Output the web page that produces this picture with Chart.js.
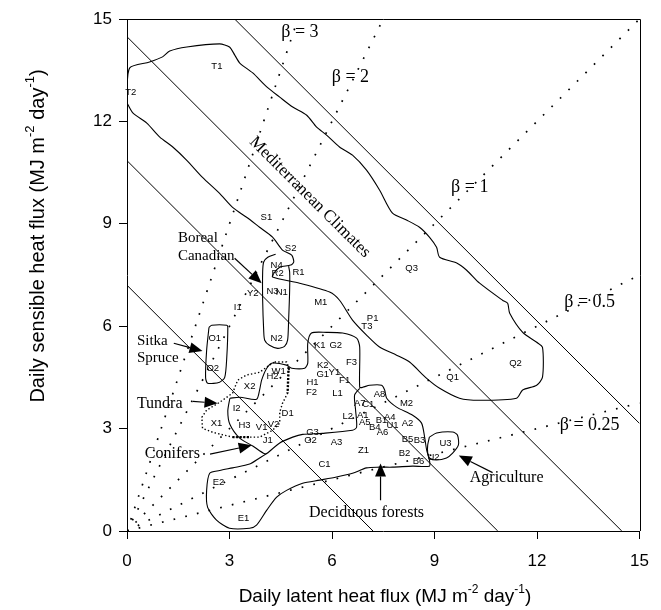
<!DOCTYPE html>
<html>
<head>
<meta charset="utf-8">
<script src="https://cdn.jsdelivr.net/npm/chart.js@4.4.1/dist/chart.umd.min.js"></script>
<style>
  body { margin: 0; background: #fff; }
  canvas { display: block; }
</style>
</head>
<body>
<canvas id="myChart" width="661" height="610"></canvas>
<script>
// Bowen ratio rays (H = beta * LE) and lines of equal available energy (LE + H)
const betaValues = [3, 2, 1, 0.5, 0.25];
const energySums = [7.2, 10.85, 14.48, 18.15];
const axisTicks = [0, 3, 6, 9, 12, 15];

// Site labels: latent (LE) and sensible (H) heat flux, MJ m-2 day-1
const siteNames = ["T1","T2","S1","S2","R1","N4","R2","N3","N1","Y2","I1","M1","N2","K1","G2",
  "T3","P1","Q3","Q1","Q2","O1","O2","X2","H2","W1","K2","G1","Y1","F3","F1","H1","F2","L1",
  "A8","A7","C1","L2","A1","A5","B1","B4","A4","U1","A6","A2","M2","B5","B3","B2","B6","U2","U3",
  "A3","G3","G2","Z1","C1","E2","E1","J1","X1","I2","H3","V1","V2","D1"];
const siteLE = [2.63,0.11,4.08,4.79,5.02,4.38,4.41,4.26,4.53,3.68,3.24,5.67,4.38,5.64,6.11,
  7.02,7.19,8.33,9.53,11.37,2.57,2.51,3.59,4.26,4.44,5.73,5.73,6.07,6.57,6.37,5.43,5.40,6.16,
  7.39,6.81,7.06,6.46,6.90,6.96,7.45,7.25,7.69,7.77,7.48,8.21,8.18,8.21,8.56,8.12,8.53,8.97,9.32,
  6.13,5.43,5.37,6.92,5.78,2.68,3.41,4.12,2.62,3.21,3.44,3.94,4.29,4.70];
const siteH = [13.62,12.86,9.19,8.28,7.58,7.79,7.56,7.03,7.00,6.97,6.56,6.70,5.65,5.44,5.44,
  6.00,6.23,7.70,4.51,4.92,5.65,4.77,4.24,4.54,4.68,4.86,4.60,4.65,4.94,4.42,4.36,4.07,4.04,
  4.01,3.75,3.72,3.36,3.39,3.18,3.25,3.04,3.33,3.10,2.89,3.16,3.74,2.68,2.65,2.26,2.05,2.17,2.58,
  2.60,2.89,2.66,2.37,1.94,1.43,0.37,2.66,3.16,3.60,3.10,3.04,3.13,3.45];

// Region outlines [LE, H]
const mediterranean = [[0,12.54],[0,12.92],[0.08,13.57],[0.66,13.74],[1.04,13.89],[1.25,14.06],
  [1.75,14.18],[2.71,14.27],[3.0,14.18],[3.15,13.95],[3.3,13.71],[3.68,13.42],[4.09,13.01],
  [4.47,12.71],[4.85,12.42],[5.26,12.18],[5.55,11.83],[5.84,11.6],[6.22,11.25],[6.6,11.01],
  [7.01,10.57],[7.39,9.99],[7.77,9.31],[8.18,9.11],[8.56,8.9],[8.85,8.61],[9.06,8.31],[9.15,8.02],
  [9.65,7.85],[9.94,7.64],[10.32,7.26],[10.99,6.76],[11.14,6.67],[11.2,6.38],[11.58,5.82],
  [11.99,5.53],[12.16,5.38],[12.16,4.51],[11.99,4.27],[11.58,4.13],[11.4,3.89],[10.32,3.83],
  [9.73,3.89],[9.15,4.18],[8.77,4.47],[8.27,4.95],[7.89,5.15],[7.39,5.39],[7.01,5.74],[6.6,6.18],
  [6.22,6.76],[5.93,7.0],[5.05,7.26],[4.26,7.44],[4.32,7.58],[4.47,7.73],[4.79,7.79],[4.88,7.88],
  [4.82,8.08],[4.55,8.23],[4.26,8.61],[3.88,8.9],[3.5,9.19],[3.09,9.48],[2.71,9.89],[2.21,10.36],
  [1.75,10.86],[1.34,11.25],[0.96,11.54],[0.58,11.95],[0.17,12.25],[0,12.54]];
const boreal = [[4.35,8.11],[4.12,8.02],[4.0,7.88],[3.97,7.58],[3.97,6.76],[4.0,5.88],[4.03,5.59],
  [4.17,5.44],[4.41,5.35],[4.61,5.41],[4.7,5.59],[4.73,6.18],[4.76,7.06],[4.76,7.58],[4.73,7.76]];
const sitka = [[2.4,5.97],[2.48,6.03],[2.92,6.03],[2.95,5.97],[2.92,5.09],[2.86,4.5],[2.71,4.36],
  [2.36,4.33],[2.3,4.5],[2.33,5.29],[2.4,5.97]];
const tundra = [[4.32,4.95],[4.67,4.95],[4.73,4.8],[4.7,4.04],[4.55,3.74],[4.47,3.48],[4.47,3.16],
  [4.26,2.95],[3.88,2.75],[3.5,2.75],[3.09,2.75],[2.51,2.89],[2.21,3.01],[2.19,3.33],[2.33,3.54],
  [2.71,3.77],[3.09,4.04],[3.24,4.42],[3.5,4.57],[3.88,4.65],[4.17,4.86],[4.32,4.95]];
const tundraHeavy1 = [[4.73,4.8],[4.7,4.04]];
const tundraHeavy2 = [[3.09,2.75],[3.6,2.75]];
const forests = [[3.01,3.89],[3.3,3.92],[3.79,3.86],[3.88,4.13],[3.94,4.42],[4.09,4.77],[4.26,4.92],
  [4.67,4.86],[4.82,4.77],[5.2,4.77],[5.29,4.92],[5.29,5.5],[5.4,5.8],[5.84,5.82],[6.31,5.8],
  [6.72,5.65],[6.81,5.39],[6.81,4.21],[6.9,4.21],[7.1,4.27],[7.45,4.27],[7.54,4.13],[7.6,3.89],
  [7.89,3.63],[8.36,3.39],[8.62,3.16],[8.71,2.75],[8.77,2.37],[8.85,2.08],[8.85,1.9],[8.36,1.9],
  [7.77,1.87],[7.39,1.87],[7.01,1.85],[6.6,1.69],[6.13,1.58],[5.64,1.49],[5.14,1.4],[4.67,1.19],
  [4.38,0.99],[4.09,0.61],[3.79,0.17],[3.59,0.08],[3.0,0.08],[2.62,0.32],[2.36,0.69],[2.33,1.19],
  [2.42,1.69],[2.71,1.77],[3.09,1.85],[3.59,1.96],[3.88,2.14],[4.12,2.29],[4.03,2.26],[3.68,2.49],
  [3.3,2.72],[3.01,3.13],[2.95,3.51],[3.01,3.89]];
const forestDivide = [[4.12,2.29],[4.47,2.58],[4.85,2.75],[5.14,2.83],[5.72,2.86],[6.6,2.95],
  [6.72,3.04],[6.69,3.54],[6.66,3.98],[6.81,4.18]];
const agriculture = [[8.85,2.75],[9.06,2.87],[9.53,2.9],[9.67,2.81],[9.7,2.52],[9.53,2.28],
  [9.35,2.14],[9.06,2.08],[8.85,2.14],[8.8,2.29],[8.8,2.52],[8.85,2.75]];

// Annotations (serif text) and arrows
const noteText = ["β = 3","β = 2","β = 1","β = 0.5","β = 0.25","Boreal","Canadian","Sitka","Spruce",
  "Tundra","Conifers","Deciduous forests","Agriculture"];
const noteLE = [5.06,6.54,10.03,13.54,13.54,1.49,1.49,0.29,0.29,0.29,0.52,7.01,11.11];
const noteH = [14.62,13.30,10.08,6.70,3.10,8.58,8.05,5.56,5.06,3.74,2.25,0.52,1.55];
const noteAlign = ["center","center","center","center","center","left","left","left","left",
  "left","left","center","center"];
const noteSize = [18,18,18,18,18,15,15,15,15,16,16,16,16];
const arrowFrom = [[3.15,7.99],[1.37,5.50],[1.93,3.80],[2.43,2.25],[7.42,0.90],[10.70,1.71]];
const arrowTo = [[3.94,7.26],[2.21,5.27],[2.65,3.74],[3.65,2.51],[7.42,1.98],[9.71,2.21]];

function toPts(arr) { return arr.map(p => ({ x: p[0], y: p[1] })); }

const datasets = [];
betaValues.forEach(b => {
  datasets.push({
    data: [{ x: 0, y: 0 }, { x: Math.min(15, 15 / b), y: Math.min(15, 15 * b) }],
    borderColor: "#000", borderWidth: 1.7, borderDash: [1.7, 10.3]
  });
});
energySums.forEach(s => {
  datasets.push({
    data: [{ x: Math.max(0, s - 15), y: Math.min(s, 15) }, { x: Math.min(s, 15), y: Math.max(0, s - 15) }],
    borderColor: "#000", borderWidth: 1
  });
});
[mediterranean, boreal, sitka, forests, forestDivide, agriculture].forEach(poly => {
  datasets.push({ data: toPts(poly), borderColor: "#000", borderWidth: 1.1, tension: 0.25 });
});
datasets.push({ data: toPts(tundra), borderColor: "#000", borderWidth: 1.4, borderDash: [1.4, 2.2] });
[tundraHeavy1, tundraHeavy2].forEach(seg => {
  datasets.push({ data: toPts(seg), borderColor: "#000", borderWidth: 2.4, borderDash: [2, 1.6] });
});
datasets.forEach(d => { d.showLine = true; d.pointRadius = 0; d.fill = false; });

const decor = {
  id: "decor",
  afterDatasetsDraw(chart) {
    const { ctx, chartArea: a, scales: { x, y } } = chart;
    const px = v => x.getPixelForValue(v);
    const py = v => y.getPixelForValue(v);
    ctx.save();
    ctx.strokeStyle = "#000";
    ctx.fillStyle = "#000";
    ctx.lineWidth = 1;
    // top and right frame
    ctx.beginPath();
    ctx.moveTo(Math.round(a.left), Math.round(a.top) + 0.5);
    ctx.lineTo(Math.round(a.right) + 0.5, Math.round(a.top) + 0.5);
    ctx.lineTo(Math.round(a.right) + 0.5, Math.round(a.bottom));
    ctx.stroke();

    // site labels
    ctx.font = '9.5px "Liberation Sans", Arial, sans-serif';
    ctx.textAlign = "center";
    ctx.textBaseline = "middle";
    siteNames.forEach((n, i) => ctx.fillText(n, px(siteLE[i]), py(siteH[i])));

    // serif notes
    noteText.forEach((t, i) => {
      ctx.font = noteSize[i] + 'px "Liberation Serif", "Times New Roman", serif';
      ctx.textAlign = noteAlign[i];
      ctx.fillText(t, px(noteLE[i]), py(noteH[i]));
    });
    // rotated label along the energy lines
    const ang = Math.atan2(py(0) - py(1), px(1) - px(0));
    ctx.save();
    ctx.translate(px(5.35), py(9.78));
    ctx.rotate(ang);
    ctx.font = '17px "Liberation Serif", "Times New Roman", serif';
    ctx.textAlign = "center";
    ctx.fillText("Mediterranean Climates", 0, 0);
    ctx.restore();

    // arrows
    arrowFrom.forEach((f, i) => {
      const x1 = px(f[0]), y1 = py(f[1]), x2 = px(arrowTo[i][0]), y2 = py(arrowTo[i][1]);
      const th = Math.atan2(y2 - y1, x2 - x1), len = 13, hw = 5.5;
      const bx = x2 - len * Math.cos(th), by = y2 - len * Math.sin(th);
      ctx.beginPath();
      ctx.moveTo(x1, y1);
      ctx.lineTo(bx, by);
      ctx.lineWidth = 1.2;
      ctx.stroke();
      ctx.beginPath();
      ctx.moveTo(x2, y2);
      ctx.lineTo(bx + hw * Math.sin(th), by - hw * Math.cos(th));
      ctx.lineTo(bx - hw * Math.sin(th), by + hw * Math.cos(th));
      ctx.closePath();
      ctx.fill();
    });

    // axis titles with superscripts
    function supTitle(parts, cx, cy, rot, size) {
      const big = size + 'px "Liberation Sans", Arial, sans-serif';
      const small = Math.round(size * 0.63) + 'px "Liberation Sans", Arial, sans-serif';
      let w = 0;
      parts.forEach(p => { ctx.font = p.sup ? small : big; w += ctx.measureText(p.t).width; });
      ctx.save();
      ctx.translate(cx, cy);
      ctx.rotate(rot);
      ctx.textAlign = "left";
      ctx.textBaseline = "middle";
      let xx = -w / 2;
      parts.forEach(p => {
        ctx.font = p.sup ? small : big;
        ctx.fillText(p.t, xx, p.sup ? -size * 0.37 : 0);
        xx += ctx.measureText(p.t).width;
      });
      ctx.restore();
    }
    supTitle([{ t: "Daily latent heat flux (MJ m" }, { t: "-2", sup: true }, { t: " day" },
      { t: "-1", sup: true }, { t: ")" }], 385, 597, 0, 19);
    supTitle([{ t: "Daily sensible heat flux (MJ m" }, { t: "-2", sup: true }, { t: " day" },
      { t: "-1", sup: true }, { t: ")" }], 38, 236, -Math.PI / 2, 20);
    ctx.restore();
  }
};

const tickFont = { family: '"Liberation Sans", Arial, sans-serif', size: 17 };
new Chart(document.getElementById("myChart").getContext("2d"), {
  type: "scatter",
  data: { datasets: datasets },
  options: {
    responsive: false,
    animation: false,
    layout: { padding: { top: 19, right: 21, left: 0, bottom: 0 } },
    plugins: { legend: { display: false }, tooltip: { enabled: false } },
    scales: {
      x: {
        min: 0, max: 15,
        afterFit(scale) { scale.height = 79; },
        afterBuildTicks(scale) { scale.ticks = axisTicks.map(v => ({ value: v })); },
        ticks: { font: tickFont, color: "#000", padding: 12, maxRotation: 0 },
        grid: { drawOnChartArea: false, tickLength: 8, color: "#000" },
        border: { color: "#000" }
      },
      y: {
        min: 0, max: 15,
        afterFit(scale) { scale.width = 127; },
        afterBuildTicks(scale) { scale.ticks = axisTicks.map(v => ({ value: v })); },
        ticks: { font: tickFont, color: "#000", padding: 7 },
        grid: { drawOnChartArea: false, tickLength: 8, color: "#000" },
        border: { color: "#000" }
      }
    }
  },
  plugins: [decor]
});
</script>
</body>
</html>
